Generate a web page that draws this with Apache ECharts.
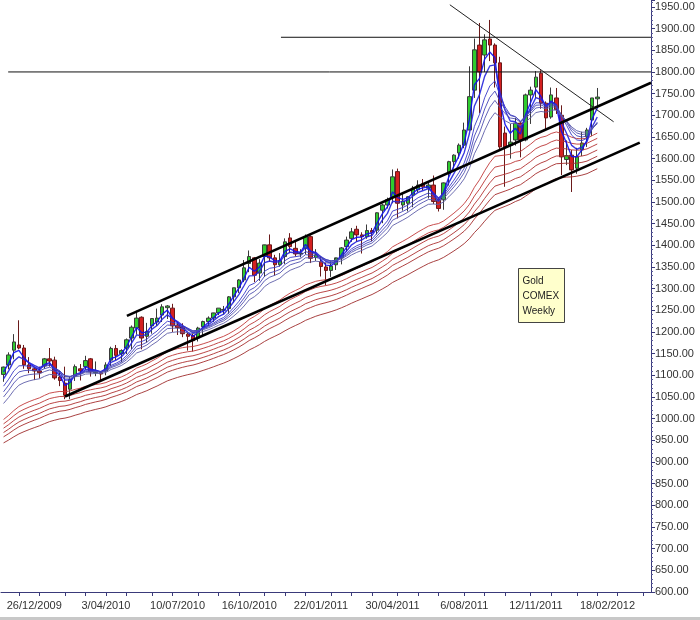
<!DOCTYPE html>
<html><head><meta charset="utf-8">
<script src="https://cdn.jsdelivr.net/npm/echarts@6/dist/echarts.min.js"></script>
<style>html,body{margin:0;padding:0;background:#fff}#c{width:700px;height:620px}</style>
</head><body><div id="c"></div>
<script>
// Weekly categories (Saturday dates), first bar 14/11/2009
const firstWeek = [2009, 11, 14];
const weekCount = 127;
const tickLabels = ['26/12/2009','3/04/2010','10/07/2010','16/10/2010','22/01/2011','30/04/2011','6/08/2011','12/11/2011','18/02/2012'];
const yTicks = {min: 600, max: 1966, step: 50};

// Gold COMEX weekly OHLC
const opens = [1102,1124,1158,1170,1163,1124,1115,1110,1122,1138,1135,1096,1082,1068,1098,1115,1120,1138,1106,1106,
1110,1135,1162,1150,1163,1186,1209,1234,1190,1214,1223,1239,1256,1255,1216,1212,1195,1192,1186,1212,
1224,1232,1244,1250,1254,1281,1302,1320,1358,1371,1336,1374,1401,1371,1355,1374,1417,1393,1380,1393,
1420,1372,1362,1350,1342,1355,1371,1397,1416,1437,1424,1420,1434,1435,1481,1493,1512,1570,1493,1497,
1516,1528,1542,1532,1539,1505,1505,1566,1593,1613,1631,1666,1758,1862,1839,1876,1862,1821,1659,1631,
1643,1682,1643,1747,1765,1797,1728,1696,1740,1700,1598,1608,1578,1620,1650,1689,1738];
const highs = [1120,1153,1195,1227,1170,1142,1120,1120,1140,1163,1143,1110,1120,1098,1125,1126,1145,1140,1132,1110,
1130,1166,1170,1160,1185,1215,1249,1236,1221,1232,1254,1264,1262,1265,1222,1220,1199,1196,1212,1226,
1236,1243,1255,1260,1283,1302,1322,1366,1388,1373,1368,1400,1425,1378,1382,1416,1428,1408,1391,1425,
1423,1391,1375,1360,1363,1368,1396,1420,1440,1445,1430,1448,1440,1476,1496,1510,1575,1577,1519,1513,
1537,1550,1553,1545,1561,1510,1545,1595,1610,1635,1683,1813,1877,1913,1887,1920,1866,1835,1674,1680,
1694,1686,1750,1766,1802,1804,1732,1764,1763,1723,1642,1620,1625,1662,1671,1740,1763];
const lows = [1085,1114,1137,1160,1115,1105,1089,1093,1115,1120,1090,1075,1045,1045,1087,1088,1113,1097,1098,1086,
1100,1121,1135,1130,1149,1160,1194,1160,1176,1196,1214,1223,1230,1200,1193,1188,1157,1155,1178,1192,
1214,1223,1239,1240,1242,1268,1290,1315,1338,1315,1318,1327,1362,1330,1351,1357,1382,1374,1372,1379,
1359,1364,1328,1308,1327,1343,1356,1385,1408,1408,1381,1415,1410,1425,1451,1485,1497,1462,1480,1478,
1488,1523,1527,1508,1495,1478,1482,1538,1577,1600,1624,1666,1740,1705,1800,1825,1764,1620,1535,1600,
1630,1603,1640,1680,1740,1715,1666,1692,1703,1562,1585,1523,1565,1606,1627,1652,1716];
const closes = [1119,1147,1177,1163,1124,1115,1110,1106,1138,1133,1094,1088,1054,1090,1120,1110,1134,1108,1110,1103,
1124,1162,1146,1157,1182,1211,1232,1186,1201,1231,1232,1258,1260,1214,1210,1196,1190,1180,1209,1224,
1232,1244,1255,1252,1281,1302,1320,1348,1374,1331,1359,1401,1371,1355,1365,1408,1397,1380,1382,1420,
1370,1378,1351,1342,1352,1371,1394,1412,1431,1424,1420,1434,1430,1475,1493,1505,1558,1497,1502,1512,
1532,1539,1535,1539,1501,1485,1544,1593,1608,1631,1666,1743,1851,1800,1874,1862,1821,1627,1627,1638,
1682,1643,1747,1758,1788,1728,1694,1747,1713,1604,1607,1574,1604,1636,1666,1740,1742];

// Guppy multiple moving averages: periods and their values at the first bar
const shortPeriods = [3, 5, 8, 10, 12, 15];
const shortStart = [1108, 1092, 1075, 1062, 1050, 1035];
const longPeriods = [30, 35, 40, 45, 50, 60];
const longStart = [998, 988, 978, 968, 958, 944];

// Drawn trend lines: [bar index, price] end points
const supportLine = [[12.0, 1051], [124.3, 1637]];
const channelTop = [[24.1, 1237], [126.5, 1775]];
const fallingLine = [[87.2, 1955], [119.2, 1685]];
const level1800 = [[0.9, 1800], [126.5, 1800]];
const level1880 = [[54.2, 1880], [126.5, 1880]];

// ---------- build ----------
const categories = [];
for (let i = 0; i < weekCount; i++) {
  const d = new Date(Date.UTC(firstWeek[0], firstWeek[1] - 1, firstWeek[2] + 7 * i));
  categories.push(d.getUTCDate() + '/' + String(d.getUTCMonth() + 1).padStart(2, '0') + '/' + d.getUTCFullYear());
}
const candleData = opens.map((o, i) => [o, closes[i], lows[i], highs[i]]);

function ema(period, start) {
  const k = 2 / (period + 1);
  const out = [start];
  for (let i = 1; i < closes.length; i++) out.push(out[i - 1] + k * (closes[i] - out[i - 1]));
  return out.map(v => Math.round(v * 100) / 100);
}

const blueCols = ['#1010f0', '#2424dc', '#3838c8', '#4646b8', '#5252b0', '#5e5ea8'];
const redCols = ['#c23a3a', '#bb3535', '#b43232', '#ad3030', '#a62e2e', '#9e2c2c'];

const series = [{
  type: 'candlestick', name: 'Gold', data: candleData, barWidth: 4, z: 2,
  itemStyle: { color: '#2ecc2e', color0: '#d42020', borderColor: '#3a3a3a', borderColor0: '#6a1a1a', borderWidth: 1 }
}];
longPeriods.forEach((p, j) => series.push({
  type: 'line', name: 'EMA' + p, data: ema(p, longStart[j]), symbol: 'none', silent: true, z: 3,
  lineStyle: { color: redCols[j], width: 1, opacity: 0.9 }
}));
shortPeriods.forEach((p, j) => series.push({
  type: 'line', name: 'EMA' + p, data: ema(p, shortStart[j]), symbol: 'none', silent: true, z: 4,
  lineStyle: { color: blueCols[j], width: j < 2 ? 1.4 : 1, opacity: 0.9 }
}));
function tline(pts, w, col) {
  return { type: 'line', xAxisIndex: 1, data: pts, symbol: 'none', silent: true, z: 6,
    lineStyle: { color: col, width: w } };
}
series.push(tline(supportLine, 2.6, '#000'));
series.push(tline(channelTop, 2.6, '#000'));
series.push(tline(fallingLine, 1, '#222'));
series.push(tline(level1800, 1, '#111'));
series.push(tline(level1880, 1, '#111'));

const labelSet = new Set(tickLabels);
const chart = echarts.init(document.getElementById('c'), null, { renderer: 'canvas' });
chart.setOption({
  animation: false,
  backgroundColor: '#ffffff',
  grid: { left: 1, right: 49, top: 0, bottom: 28, containLabel: false },
  xAxis: [{
    type: 'category', data: categories, boundaryGap: true,
    axisLine: { show: true, onZero: false, lineStyle: { color: '#3a3a7a', width: 1 } },
    axisTick: { show: true, length: 4, alignWithLabel: true, lineStyle: { color: '#3a3a7a' },
      interval: (i, v) => Number(v.split('/')[0]) <= 7 },
    axisLabel: { interval: (i, v) => labelSet.has(v), fontSize: 11, color: '#333', margin: 8,
      fontFamily: 'Liberation Sans, Arial, sans-serif' },
    splitLine: { show: false }
  }, {
    type: 'value', min: -0.5, max: weekCount - 0.5, show: false
  }],
  yAxis: {
    type: 'value', position: 'right', min: yTicks.min, max: yTicks.max, interval: yTicks.step,
    axisLine: { show: true, onZero: false, lineStyle: { color: '#3a3a7a', width: 1 } },
    axisTick: { show: true, length: 4, lineStyle: { color: '#3a3a7a' } },
    minorTick: { show: true, splitNumber: 5, length: 2, lineStyle: { color: '#5a5a9a' } },
    axisLabel: { fontSize: 11, color: '#333', margin: 4, showMaxLabel: false,
      fontFamily: 'Liberation Sans, Arial, sans-serif',
      formatter: v => (v % 50 === 0 ? v.toFixed(2) : '') },
    splitLine: { show: false }
  },
  series: series,
  graphic: [{
    type: 'group', left: 518, top: 268, z: 100,
    children: [
      { type: 'rect', shape: { x: 0, y: 0, width: 46, height: 54 },
        style: { fill: '#ffffcc', stroke: '#444', lineWidth: 1 } },
      { type: 'text', style: { x: 4, y: 5, text: 'Gold\nCOMEX\nWeekly', fill: '#222',
        font: '10px "Liberation Sans", Arial, sans-serif', lineHeight: 15 } }
    ]
  }, {
    type: 'rect', left: 0, top: 617, shape: { x: 0, y: 0, width: 700, height: 3 },
    style: { fill: '#c8c8c8' }, silent: true
  }]
});
</script></body></html>
